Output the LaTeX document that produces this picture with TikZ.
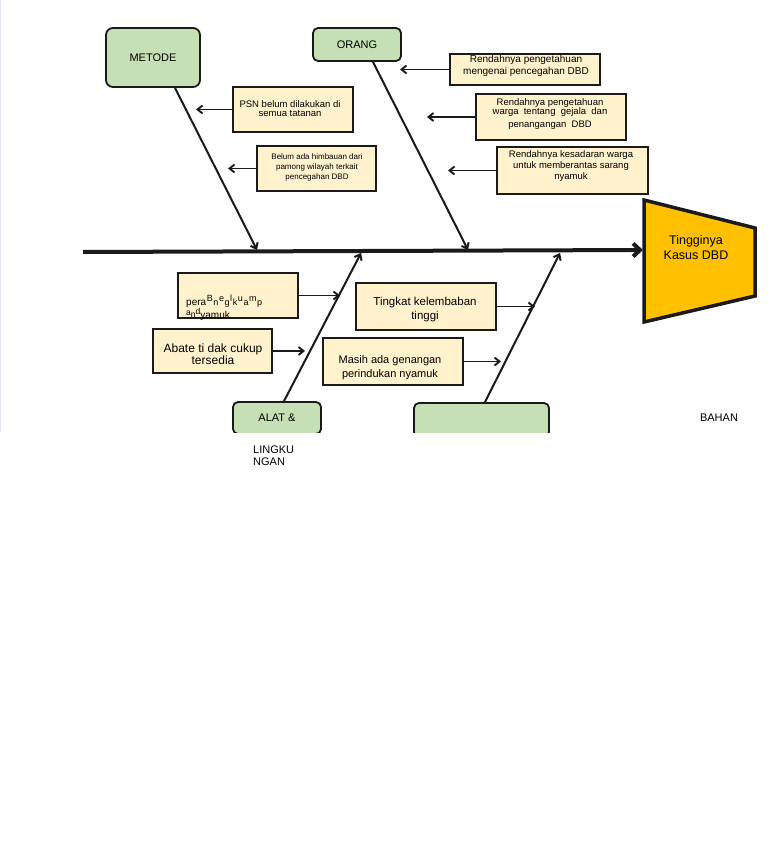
\documentclass[tikz,border=0pt]{standalone}
\usepackage{fontspec}
\setmainfont{Liberation Sans}
\usetikzlibrary{arrows.meta,calc}
\definecolor{gfill}{HTML}{C5E0B4}
\definecolor{cream}{HTML}{FFF2CC}
\definecolor{gold}{HTML}{FFC000}
\definecolor{edge}{HTML}{1A1A1A}
\definecolor{faint}{HTML}{E4E2F2}
\newcommand{\fsz}[2]{\fontsize{#1}{#2}\selectfont}
\newcommand{\upc}[1]{\raisebox{3.2pt}{\fsz{9}{9}#1}\kern0.6pt}
\newcommand{\dnc}[1]{\raisebox{-0.8pt}{\fsz{9}{9}#1}\kern0.6pt}
\begin{document}
\begin{tikzpicture}[x=1pt,y=-1pt,
  catbox/.style={draw=edge, line width=1.8pt, fill=gfill, rounded corners=7pt, inner sep=0pt, font=\fsz{11}{12}},
  causebox/.style={draw=edge, line width=1.6pt, fill=cream, inner sep=0pt},
  txt/.style={inner sep=0pt, align=center, text=black},
  bone/.style={draw=edge, line width=2pt, -{Straight Barb[length=5pt,width=8pt]}},
  subarrow/.style={draw=edge, line width=1.9pt, -{Straight Barb[length=5pt,width=8pt]}},
]
\useasboundingbox (0,0) rectangle (768,866);
\fill[white] (0,0) rectangle (768,866);
\draw[line width=1pt, faint] (0.5,0) -- (0.5,432);

% head
\draw[draw=edge, line width=3.5pt, fill=gold, line join=miter] (644,200) -- (755,228) -- (755,296) -- (644,322) -- cycle;
\node[txt, font=\fsz{12.5}{15}] (head) at (696,248) {Tingginya\\Kasus DBD};

% category boxes
\node[catbox, minimum width=94pt, minimum height=59pt] (metode) at (153,57.5) {METODE};
\node[catbox, rounded corners=5pt, minimum width=88pt, minimum height=33pt] (orang) at (357,44.5) {ORANG};
\begin{scope}
\clip (0,0) rectangle (768,432);
\node[catbox, rounded corners=5pt, minimum width=88pt, minimum height=32pt] (alat) at (277,418) {ALAT \&};
\node[catbox, rounded corners=5pt, minimum width=135pt, minimum height=34pt] (bahan) at (481.5,420) {};
\end{scope}
\node[txt, font=\fsz{11}{12}] (bahant) at (719,418) {BAHAN};
\node[txt, font=\fsz{11}{12}, align=left, anchor=west] (lingk) at (253,456) {LINGKU\\NGAN};

% spine
\coordinate (sL) at (83,252);
\coordinate (sR) at (643,250);
\draw[draw=edge, line width=4pt, -{Straight Barb[length=7pt,width=13pt]}] (sL) -- (sR);

% bones
\coordinate (mEnd) at (257,250);
\coordinate (oEnd) at (468,250);
\coordinate (aEnd) at (361,253);
\coordinate (bEnd) at (560,253);
\draw[bone] ($(metode.south)+(22,0)$) -- (mEnd);
\draw[bone] ($(orang.south)+(16,0)$) -- (oEnd);
\draw[bone] ($(alat.north)+(7,0)$) -- (aEnd);
\draw[bone] ($(bahan.north)+(3.5,0)$) -- (bEnd);

% cause boxes: METODE
\node[causebox, minimum width=120pt, minimum height=45pt] (psn) at (293,109.5) {};
\node[txt, font=\fsz{9.5}{9.5}] (psnt) at (290,108.5) {PSN belum dilakukan di\\semua tatanan};
\node[causebox, minimum width=119pt, minimum height=45pt] (belum) at (316.5,168.5) {};
\node[txt, font=\fsz{8}{10}] (belumt) at (317,167) {Belum ada himbauan dari\\pamong wilayah terkait\\pencegahan DBD};

% cause boxes: ORANG
\node[causebox, minimum width=150pt, minimum height=31pt] (r1) at (525,69.5) {};
\node[txt, font=\fsz{10}{12}] (r1t) at (526,66) {Rendahnya pengetahuan\\mengenai pencegahan DBD};
\node[causebox, minimum width=150pt, minimum height=46pt] (r2) at (551,117) {};
\node[txt, font=\fsz{9.5}{9}] (r2t) at (550,114) {Rendahnya pengetahuan\\warga\ \ tentang\ \ gejala\ \ dan\\[4pt]penangangan\ \ DBD};
\node[causebox, minimum width=151pt, minimum height=47pt] (r3) at (572.5,170.5) {};
\node[txt, font=\fsz{9.5}{11}] (r3t) at (571,166) {Rendahnya kesadaran warga\\untuk memberantas sarang\\nyamuk};

% cause boxes: ALAT & BAHAN
\node[causebox, minimum width=120pt, minimum height=45pt] (pera) at (238,295.5) {};
\node[inner sep=0pt, anchor=base west, font=\fsz{10}{10}] (pera1) at (186,305) {pera\kern0.6pt\upc{B}\dnc{n}\upc{e}\dnc{g}\upc{l}\dnc{k}\upc{u}\dnc{a}\upc{m}\dnc{p}};
\node[inner sep=0pt, anchor=base west, font=\fsz{10}{10}] (pera2) at (186,318) {\raisebox{3pt}{\fsz{8.5}{9}a}\raisebox{0.5pt}{\fsz{8.5}{9}n}\raisebox{4pt}{\fsz{8.5}{9}d}yamuk};
\node[causebox, minimum width=119pt, minimum height=44pt] (abate) at (212.5,351) {};
\node[txt, font=\fsz{12}{12.5}] (abatet) at (213,354) {Abate ti dak cukup\\tersedia};

\node[causebox, minimum width=140pt, minimum height=47pt] (tingkat) at (426,306.5) {};
\node[txt, font=\fsz{11.5}{14}] (tingkatt) at (425,310) {Tingkat kelembaban\\tinggi};
\node[causebox, minimum width=140pt, minimum height=47pt] (masih) at (393,361.5) {};
\node[txt, font=\fsz{11}{14}] (masiht) at (390,368) {Masih ada genangan\\perindukan nyamuk};

% sub arrows
\coordinate (psnE) at (196,109.5);
\coordinate (belumE) at (228,168.5);
\coordinate (r1E) at (400,69.5);
\coordinate (r2E) at (427,117);
\coordinate (r3E) at (448,170.5);
\coordinate (peraE) at (340,295.5);
\coordinate (abateE) at (305,351);
\coordinate (tingkatE) at (535,306.5);
\coordinate (masihE) at (501,361.5);
\draw[subarrow] (psn.west) -- (psnE);
\draw[subarrow] (belum.west) -- (belumE);
\draw[subarrow] (r1.west) -- (r1E);
\draw[subarrow] (r2.west) -- (r2E);
\draw[subarrow] (r3.west) -- (r3E);
\draw[subarrow] (pera.east) -- (peraE);
\draw[subarrow] (abate.east) -- (abateE);
\draw[subarrow] (tingkat.east) -- (tingkatE);
\draw[subarrow] (masih.east) -- (masihE);
\end{tikzpicture}
\end{document}
